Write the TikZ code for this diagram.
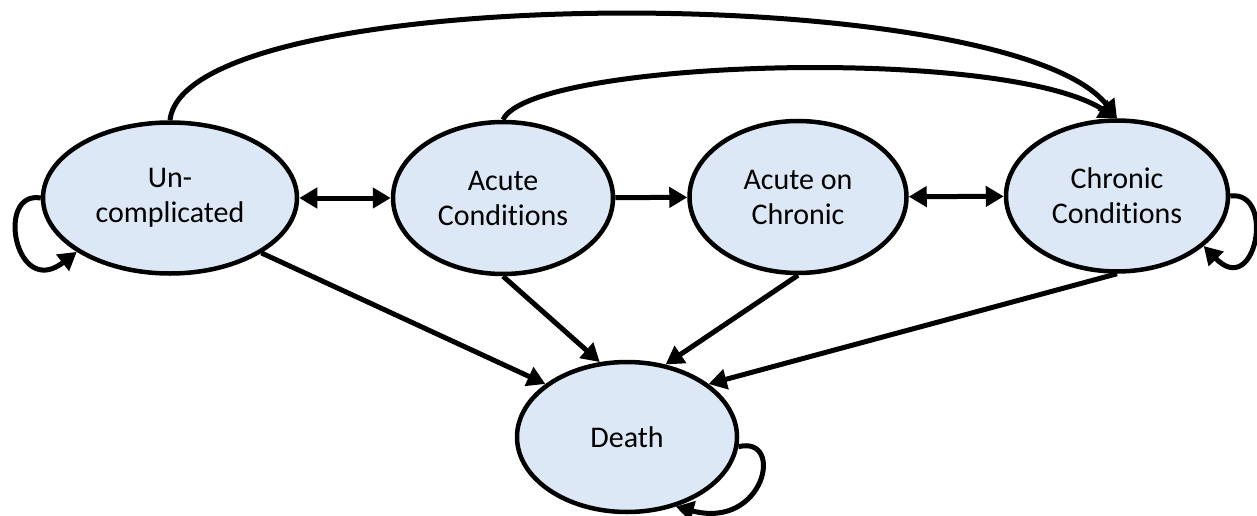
\documentclass[tikz,border=0pt]{standalone}
\usepackage{fontspec}
\setmainfont{Carlito}[Ligatures={NoCommon}]
\usetikzlibrary{shapes.geometric,arrows.meta}
\definecolor{statefill}{RGB}{220,232,245}
\begin{document}
\begin{tikzpicture}[x=1pt,y=-1pt,
  state/.style={ellipse,draw=black,line width=4.5pt,fill=statefill,inner sep=0pt,
    align=center,font=\fontsize{30}{35}\selectfont},
  conn/.style={line width=5pt,-{Triangle[length=18pt,width=20pt]}},
  bconn/.style={line width=5pt,{Triangle[length=18pt,width=20pt]}-{Triangle[length=18pt,width=20pt]}}]
\useasboundingbox (0,0) rectangle (1257,516);
\node[state,minimum width=254pt,minimum height=151pt] (U) at (170,198) {Un-\\complicated};
\node[state,minimum width=220pt,minimum height=152pt] (A) at (503,198) {Acute\\Conditions};
\node[state,minimum width=217pt,minimum height=152pt] (O) at (798,197) {Acute on\\Chronic};
\node[state,minimum width=222pt,minimum height=151pt] (C) at (1117,196) {Chronic\\Conditions};
\node[state,minimum width=220pt,minimum height=150pt] (D) at (627,437) {Death};
\draw[bconn] (U) -- (A);
\draw[conn] (A) -- (O);
\draw[bconn] (O) -- (C);
\draw[conn] (U.-31) -- (D.147);
\draw[conn] (A.south) -- (D.110);
\draw[conn] (O.south) -- (D.62);
\draw[conn] (C.south) -- (D.33);
\draw[conn] (U.north) .. controls (185,-20) and (1010,-20) .. (C.north);
\draw[conn] (A.north) .. controls (530,60) and (1000,45) .. (C.north);
\draw[conn] (U.180) .. controls (-5,190) and (15,300) .. (U.210);
\draw[conn] (C.0) .. controls (1276,190) and (1256,300) .. (C.-30);
\draw[conn] (D.-5) .. controls (785,435) and (765,530) .. (D.-55);
\end{tikzpicture}
\end{document}
